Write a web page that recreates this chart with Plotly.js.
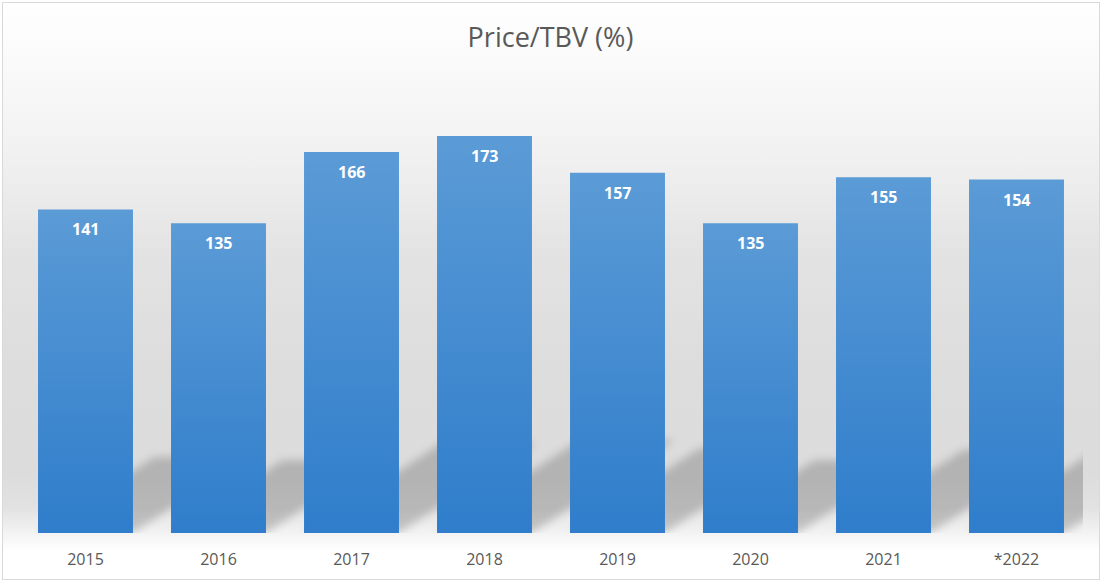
<!DOCTYPE html>
<html>
<head>
<meta charset="utf-8">
<script src="https://cdn.plot.ly/plotly-3.0.1.min.js"></script>
<style>
  html, body { margin: 0; padding: 0; background: #ffffff; }
  #wrap { position: relative; width: 1101px; height: 581px; background: #ffffff; overflow: hidden; }
  #bg { position: absolute; left: 2px; top: 2px; width: 1096px; height: 576px; border: 1px solid #d9d9d9;
        background: linear-gradient(to bottom, #ffffff 0px, #fafafa 60px, #f1f1f1 150px, #e3e3e3 250px, #dddddd 360px, #dcdcdc 470px, #e2e2e2 505px, #f3f3f3 530px, #ffffff 548px, #ffffff 576px); }
  #chart { position: absolute; left: 0; top: 0; width: 1101px; height: 581px; }
</style>
</head>
<body>
<div id="wrap">
  <div id="bg"></div>
  <div id="chart"></div>
</div>
<script>
// ---- data ----
const categories = ["2015", "2016", "2017", "2018", "2019", "2020", "2021", "*2022"];
const values = [141, 135, 166, 173, 157, 135, 155, 154];
const chartTitle = "Price/TBV (%)";

// ---- styling constants ----
const positions = categories.map((c, i) => i);
const barGap = 0.286;
const halfW = (1 - barGap) / 2;
const shadowShift = 0.0062;    // horizontal skew per unit of height (category units)
const shadowRise = 0.235;      // vertical compression of the cast shadow

const shapes = values.map((v, i) => {
  const xl = positions[i] - halfW, xr = positions[i] + halfW;
  const dx = shadowShift * v, dy = shadowRise * v;
  return {
    type: 'path', xref: 'x', yref: 'y', layer: 'below',
    path: `M ${xl} 0 L ${xr} 0 L ${xr + dx} ${dy} L ${xl + dx} ${dy} Z`,
    fillcolor: 'rgba(0,0,0,0.19)', line: { width: 0 }
  };
});

const annotations = values.map((v, i) => ({
  x: positions[i], y: v, xref: 'x', yref: 'y',
  text: '<b>' + v + '</b>', showarrow: false,
  yanchor: 'middle', yshift: -20,
  font: { family: 'Open Sans, sans-serif', size: 16, color: '#ffffff' }
}));

const trace = {
  type: 'bar', x: positions, y: values,
  marker: { color: '#4a8fd3', line: { width: 0 } },
  hoverinfo: 'none'
};

const layout = {
  width: 1101, height: 581,
  paper_bgcolor: 'rgba(0,0,0,0)', plot_bgcolor: 'rgba(0,0,0,0)',
  margin: { l: 19, r: 18, t: 74, b: 48, pad: 0 },
  bargap: barGap,
  showlegend: false,
  title: {
    text: chartTitle, x: 0.5, xanchor: 'center', y: 1 - 38 / 581, yanchor: 'middle', yref: 'container',
    font: { family: 'Open Sans, sans-serif', size: 27, color: '#595959' }
  },
  xaxis: {
    type: 'linear', range: [-0.5, categories.length - 0.5],
    tickmode: 'array', tickvals: positions, ticktext: categories,
    showgrid: false, zeroline: false, showline: false, ticks: '',
    tickfont: { family: 'Open Sans, sans-serif', size: 16, color: '#595959' },
    ticklabelstandoff: 15
  },
  yaxis: {
    range: [0, 200], showgrid: false, zeroline: false, showline: false,
    showticklabels: false, ticks: ''
  },
  shapes: shapes,
  annotations: annotations
};

Plotly.newPlot('chart', [trace], layout, { displayModeBar: false, staticPlot: true }).then(gd => {
  const svg = gd.querySelector('svg.main-svg');
  const NS = 'http://www.w3.org/2000/svg';
  let defs = svg.querySelector('defs');
  if (!defs) { defs = document.createElementNS(NS, 'defs'); svg.insertBefore(defs, svg.firstChild); }
  const grad = document.createElementNS(NS, 'linearGradient');
  grad.setAttribute('id', 'barGrad');
  grad.setAttribute('x1', '0'); grad.setAttribute('y1', '0');
  grad.setAttribute('x2', '0'); grad.setAttribute('y2', '1');
  [['0', '#5b9bd6'], ['1', '#2f7dcb']].forEach(([o, c]) => {
    const s = document.createElementNS(NS, 'stop');
    s.setAttribute('offset', o); s.setAttribute('stop-color', c);
    grad.appendChild(s);
  });
  defs.appendChild(grad);
  const filt = document.createElementNS(NS, 'filter');
  filt.setAttribute('id', 'shBlur');
  filt.setAttribute('x', '-50%'); filt.setAttribute('y', '-50%');
  filt.setAttribute('width', '200%'); filt.setAttribute('height', '200%');
  const blur = document.createElementNS(NS, 'feGaussianBlur');
  blur.setAttribute('stdDeviation', '4');
  filt.appendChild(blur);
  defs.appendChild(filt);
  gd.querySelectorAll('.barlayer .point path').forEach(p => { p.style.fill = 'url(#barGrad)'; });
  gd.querySelectorAll('.shapelayer path').forEach(p => {
    p.setAttribute('filter', 'url(#shBlur)');
    p.style.filter = 'url(#shBlur)';
  });
});
</script>
</body>
</html>
